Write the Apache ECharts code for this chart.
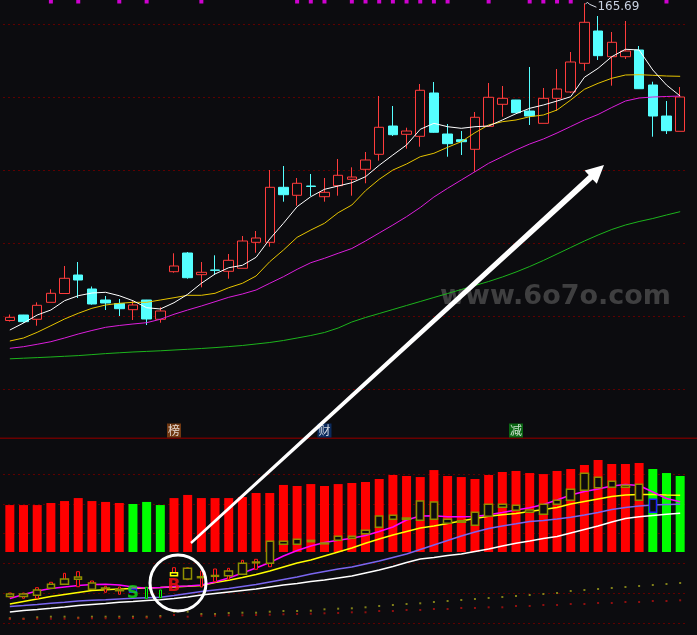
<!DOCTYPE html>
<html><head><meta charset="utf-8">
<script src="https://cdn.jsdelivr.net/npm/echarts/dist/echarts.min.js"></script>
<style>html,body{margin:0;padding:0;background:#0c0c0f;overflow:hidden}#c{width:697px;height:635px}</style>
</head><body><div id="c"></div>
<script>
const categories = ['1','2','3','4','5','6','7','8','9','10','11','12','13','14','15','16','17','18','19','20','21','22','23','24','25','26','27','28','29','30','31','32','33','34','35','36','37','38','39','40','41','42','43','44','45','46','47','48','49','50'];

// upper panel: daily candles
const priceOpen  = [78.77,80.27,79.10,83.75,86.16,91.23,87.40,84.38,83.42,81.73,84.38,79.10,92.14,97.26,91.32,92.60,92.25,93.07,100.19,100.19,115.26,113.07,115.62,112.68,115.70,117.45,120.19,124.30,132.05,129.78,129.23,141.10,129.86,128.30,125.67,131.97,138.00,139.18,136.16,132.79,139.64,141.37,149.23,158.08,151.04,151.04,152.88,143.29,134.79,130.60];
const priceClose = [79.64,78.44,82.93,86.22,90.33,89.86,83.29,83.56,82.00,83.01,79.18,81.37,93.70,90.49,91.97,92.52,95.26,100.55,101.37,115.26,113.23,116.36,115.48,113.89,118.55,118.08,122.74,131.70,129.67,130.68,141.84,130.33,127.21,127.75,134.44,139.92,139.64,135.70,134.79,139.64,142.19,149.59,160.47,151.32,154.99,152.60,142.27,134.79,130.77,140.00];
const priceLow   = [78.49,78.08,77.34,83.75,86.16,84.93,83.10,81.64,80.00,78.90,77.53,78.16,91.86,90.22,87.86,91.23,90.22,93.07,97.34,98.99,111.32,110.22,112.88,111.32,112.96,112.96,116.36,122.55,129.32,125.84,126.38,130.20,123.64,124.11,119.53,131.97,134.60,135.62,132.33,132.79,136.25,141.10,147.21,150.14,143.10,150.41,142.19,129.12,129.86,130.60];
const priceHigh  = [80.41,80.30,83.75,87.32,93.70,94.79,88.08,85.48,84.66,84.11,84.40,82.38,97.18,97.53,94.79,96.63,96.99,101.92,103.29,120.00,121.10,117.81,118.90,117.81,123.01,120.74,124.93,140.27,137.53,131.59,143.56,144.11,132.60,130.68,135.89,143.84,143.01,139.20,148.22,142.47,147.67,152.33,165.69,162.19,157.81,160.82,153.97,144.19,138.90,142.74];

const maWhite   = [76.16,78.08,80.27,81.64,84.19,85.56,86.30,86.49,85.56,84.19,82.27,81.92,83.64,85.95,88.96,91.51,93.23,93.89,96.08,101.10,105.40,109.95,112.69,114.71,115.62,116.52,118.16,121.29,124.11,126.85,131.15,132.79,131.86,131.42,131.86,132.05,133.70,135.42,136.90,137.81,138.90,140.08,145.40,147.86,151.04,153.07,152.88,147.40,143.29,140.27];
const maYellow  = [73.15,73.97,75.53,77.34,79.18,80.74,82.11,83.01,83.48,83.75,83.75,84.38,85.01,85.67,85.67,86.22,87.75,88.96,90.96,94.88,98.08,101.56,103.56,105.40,108.30,110.41,114.33,117.45,120.00,121.64,123.64,124.58,126.22,127.75,130.22,132.33,133.23,133.70,134.60,135.07,136.44,139.18,142.11,143.75,145.12,146.03,146.11,145.95,145.75,145.67];
const maMagenta = [71.15,71.59,72.25,72.96,73.97,75.07,76.03,76.90,77.40,77.81,78.17,79.10,80.47,81.64,82.74,83.92,85.12,86.03,87.12,88.96,90.77,92.79,94.60,95.81,97.18,98.49,100.55,102.74,104.93,107.21,109.73,112.60,114.99,117.26,119.53,121.84,123.64,125.48,127.12,128.49,130.14,131.92,133.70,135.21,137.12,138.90,139.73,140.00,140.14,140.27];
const maGreen   = [68.27,68.44,68.60,68.77,68.96,69.15,69.42,69.70,69.92,70.14,70.30,70.47,70.68,70.88,71.10,71.34,71.62,71.92,72.33,72.74,73.29,73.97,74.66,75.48,76.71,78.36,79.59,80.68,81.78,82.88,83.97,85.07,86.16,87.26,88.36,89.45,90.68,92.05,93.56,95.21,96.99,98.77,100.55,102.19,103.70,104.93,105.89,106.71,107.67,108.58];

// top signal squares (category indexes)
const topSignals = [3,5,8,10,14,21,22,23,25,26,27,28,29,30,31,32,35,38,39,40,41,48];
// captions over the lower panel
const tagIndex = [12,23,37];
const tagText  = ['榜','财','减'];
const tagColor = ['#8a4312','#0b3372','#0a7d14'];

// lower panel indicator
const barValue = [31.5,31.5,31.5,32.9,34.2,36.2,34.2,33.6,32.9,32.2,33.6,31.5,36.2,38.3,36.2,36.2,36.2,36.9,39.6,39.6,45.0,44.3,45.6,44.3,45.6,46.3,47.0,49.0,51.7,51.0,50.3,55.0,51.0,50.3,49.0,51.7,53.7,54.4,53.0,52.3,54.4,55.7,58.4,61.7,59.1,59.1,59.7,55.7,53.0,51.0];
const barSide  = ['R','R','R','R','R','R','R','R','R','G','G','G','R','R','R','R','R','R','R','R','R','R','R','R','R','R','R','R','R','R','R','R','R','R','R','R','R','R','R','R','R','R','R','R','R','R','R','G','G','G'];
const lowMagenta = [-31.21,-28.52,-26.17,-24.50,-23.49,-22.48,-21.81,-21.68,-22.15,-23.49,-24.36,-23.83,-23.15,-22.82,-22.15,-20.13,-17.45,-14.09,-10.74,-7.05,-2.68,1.01,4.03,6.38,7.85,9.26,11.07,13.76,16.78,21.48,24.16,24.30,23.69,23.69,23.83,24.97,26.51,28.19,29.66,31.88,34.90,38.26,40.60,42.28,44.30,45.30,44.63,40.27,35.91,33.69];
const lowYellow  = [-34.90,-33.22,-31.54,-29.87,-28.52,-27.18,-25.84,-25.37,-24.83,-24.50,-24.16,-23.83,-23.49,-23.02,-22.48,-20.47,-18.99,-17.11,-15.10,-12.75,-10.07,-7.38,-5.37,-2.68,0,2.68,5.84,8.72,11.41,13.76,16.11,17.45,19.13,20.81,22.48,23.96,24.97,25.84,27.18,28.52,29.87,32.21,33.89,35.57,37.25,38.26,38.59,38.59,38.26,38.05];
const lowPurple  = [-36.58,-35.91,-35.23,-34.43,-33.76,-32.89,-32.42,-32.01,-31.54,-31.07,-30.74,-30.40,-29.19,-27.85,-26.51,-25.50,-24.50,-23.15,-21.81,-20.13,-18.46,-16.78,-14.77,-13.09,-11.41,-10.07,-8.05,-6.04,-3.69,-1.34,1.68,4.70,7.72,10.74,13.42,15.77,17.45,18.93,20.47,21.14,22.15,23.29,24.83,26.51,28.52,29.87,30.87,31.54,31.88,32.01];
const lowWhite   = [-40.27,-39.26,-38.59,-37.79,-36.91,-35.91,-35.23,-34.56,-33.76,-33.22,-32.55,-32.01,-31.21,-30.20,-28.86,-27.85,-26.85,-25.84,-24.83,-23.49,-22.15,-21.14,-19.80,-18.79,-17.45,-16.11,-14.09,-12.08,-9.73,-7.05,-4.70,-3.69,-2.35,-1.34,0.34,2.01,4.03,5.84,7.38,9.06,10.40,12.75,15.10,17.45,20.13,22.48,23.62,24.50,25.30,25.97];
const boxTop    = [-28.19,-28.19,-25.50,-21.68,-18.12,-16.78,-20.81,-24.16,-25.03,-24.83,null,null,-13.89,-10.94,-16.58,-15.77,-12.75,-7.58,-6.71,7.18,7.18,8.52,7.85,6.04,10.54,10.54,14.56,24.16,24.63,22.82,34.23,33.56,21.95,21.01,26.64,32.01,32.01,31.34,28.19,32.01,34.70,42.08,52.82,50.13,47.45,44.77,45.44,35.37,null,null];
const boxBottom = [-29.87,-29.87,-29.06,-24.36,-21.68,-18.32,-25.03,-24.63,-25.97,-27.05,null,null,-15.91,-18.12,-17.25,-16.31,-15.91,-14.97,-7.25,-7.58,5.17,5.17,6.91,5.50,7.85,9.19,12.28,16.58,21.95,21.95,21.28,21.95,19.26,19.93,17.92,23.96,30.00,27.99,26.64,25.30,32.01,34.70,41.41,43.15,43.42,43.42,34.70,26.64,null,null];
const boxKind   = ['O','O','O','O','O','O','O','O','O','B','-','-','Y','O','O','O','O','O','O','O','O','O','O','O','O','O','O','O','O','O','O','O','O','O','O','O','O','O','O','O','O','O','O','O','O','O','O','B','-','-'];
const stickTop    = [-27.52,-27.52,-23.96,-20.34,-14.30,-13.22,-19.46,-23.02,-23.49,null,-23.69,-25.50,-10.54,-10.54,-12.75,-11.41,-10.94,-5.57,-4.90,7.18];
const stickBottom = [-30.20,-31.07,-31.07,-24.36,-21.68,-23.29,-25.03,-27.05,-28.39,null,-31.07,-30.67,-15.44,-18.59,-23.49,-19.93,-18.32,-14.77,-11.61,-9.87];
const stickKind   = ['R','R','R','R','R','R','R','R','R','-','G','G','R','R','R','R','R','R','R','R'];
const dotOlive = [-44.50,-44.77,-43.83,-43.42,-43.42,-44.09,-43.42,-43.42,-43.42,-43.42,-43.42,-42.95,-40.07,-40.07,-41.61,-41.61,-40.94,-40.74,-40.74,-40.07,-39.60,-39.60,-39.40,-38.46,-38.05,-37.79,-37.11,-36.24,-35.57,-34.90,-34.43,-33.56,-32.89,-32.21,-31.54,-30.87,-30.20,-29.53,-28.86,-28.19,-27.52,-26.17,-25.50,-24.83,-24.16,-23.49,-22.82,-22.15,-21.48,-20.81];
const dotRed   = [-44.97,-44.97,-44.77,-44.77,-44.77,-44.50,-44.50,-44.50,-44.30,-44.30,-44.09,-43.83,-42.28,-43.42,-42.75,-42.75,-42.48,-42.48,-42.28,-42.08,-41.81,-41.61,-41.41,-41.14,-40.94,-40.47,-40.47,-39.60,-39.60,-38.93,-38.93,-38.26,-38.26,-37.58,-37.58,-37.11,-37.11,-36.24,-36.24,-35.57,-35.57,-34.90,-34.90,-34.23,-34.23,-33.56,-33.56,-32.89,-32.89,-32.42];
const tradeIndex = [9,12];
const tradeText  = ['S','B'];
const tradeValue = [-28.2,-23.5];
const tradeColor = ['#10e010','#ff1010'];

const BG = '#0c0c0f';
const GRID_LEFT = 3, GRID_W = 684;
const boxColors = {O:'#8f8f00', Y:'#ffff00', B:'#1e1eff'};
const stickColors = {R:'#ff1a1a', G:'#00ff00'};

const chart = echarts.init(document.getElementById('c'), null, {renderer:'canvas'});

const candles = categories.map((c,i)=>[priceOpen[i],priceClose[i],priceLow[i],priceHigh[i]]);
const bars = barValue.map((v,i)=>({value:v,itemStyle:{color:barSide[i]==='G'?'#00ff00':'#ff0000'}}));
const boxes = categories.map((c,i)=>{
  if(boxTop[i]==null) return {value:['-','-','-','-']};
  const col = boxColors[boxKind[i]];
  return {value:[boxBottom[i],boxTop[i],boxBottom[i],boxTop[i]],
          itemStyle:{color:BG,color0:BG,borderColor:col,borderColor0:col}};
});
const sticks = categories.map((c,i)=>{
  if(i>=stickTop.length || stickTop[i]==null) return {value:['-','-','-','-']};
  const col = stickColors[stickKind[i]];
  return {value:[stickBottom[i],stickTop[i],stickBottom[i],stickTop[i]],
          itemStyle:{color:BG,color0:BG,borderColor:col,borderColor0:col}};
});

const splitStyle = {show:true,lineStyle:{color:'#5e0000',type:[2,3],width:1}};
const xBase = {type:'category',data:categories,boundaryGap:true,show:false};

chart.setOption({
  animation:false,
  backgroundColor:BG,
  grid:[
    {left:GRID_LEFT,width:GRID_W,top:24,height:365},
    {left:GRID_LEFT,width:GRID_W,top:474,height:149},
    {left:GRID_LEFT,width:GRID_W,top:0,height:3},
    {left:GRID_LEFT,width:GRID_W,top:424,height:13}
  ],
  xAxis:[
    Object.assign({gridIndex:0},xBase),
    Object.assign({gridIndex:1},xBase),
    Object.assign({gridIndex:2},xBase),
    Object.assign({gridIndex:3},xBase)
  ],
  yAxis:[
    {gridIndex:0,type:'value',min:60,max:160,interval:20,axisLabel:{show:false},axisLine:{show:false},axisTick:{show:false},splitLine:splitStyle},
    {gridIndex:1,type:'value',min:-47.65,max:52.35,interval:20,axisLabel:{show:false},axisLine:{show:false},axisTick:{show:false},splitLine:splitStyle},
    {gridIndex:2,type:'value',min:0,max:1,show:false},
    {gridIndex:3,type:'value',min:0,max:1,show:false}
  ],
  series:[
    {type:'candlestick',xAxisIndex:0,yAxisIndex:0,data:candles,barWidth:10,clip:false,z:2,
     itemStyle:{color:BG,color0:'#55ffff',borderColor:'#ff3c3c',borderColor0:'#55ffff',borderWidth:1}},
    {type:'line',xAxisIndex:0,yAxisIndex:0,data:maGreen,showSymbol:false,clip:false,z:3,lineStyle:{color:'#1cb41c',width:1}},
    {type:'line',xAxisIndex:0,yAxisIndex:0,data:maMagenta,showSymbol:false,clip:false,z:3,lineStyle:{color:'#dc1edc',width:1}},
    {type:'line',xAxisIndex:0,yAxisIndex:0,data:maYellow,showSymbol:false,clip:false,z:3,lineStyle:{color:'#e6c400',width:1}},
    {type:'line',xAxisIndex:0,yAxisIndex:0,data:maWhite,showSymbol:false,clip:false,z:4,lineStyle:{color:'#ffffff',width:1}},

    {type:'bar',xAxisIndex:1,yAxisIndex:1,data:bars,barWidth:9,clip:false,z:1},
    {type:'line',xAxisIndex:1,yAxisIndex:1,data:lowWhite,showSymbol:false,clip:false,z:2,lineStyle:{color:'#ffffff',width:1.5}},
    {type:'line',xAxisIndex:1,yAxisIndex:1,data:lowPurple,showSymbol:false,clip:false,z:2,lineStyle:{color:'#7a66f0',width:1.5}},
    {type:'line',xAxisIndex:1,yAxisIndex:1,data:lowYellow,showSymbol:false,clip:false,z:2,lineStyle:{color:'#ffff00',width:1.5}},
    {type:'line',xAxisIndex:1,yAxisIndex:1,data:lowMagenta,showSymbol:false,clip:false,z:2,lineStyle:{color:'#ff00ff',width:1.5}},
    {type:'candlestick',xAxisIndex:1,yAxisIndex:1,data:sticks,barWidth:3,clip:false,z:3,itemStyle:{borderWidth:1}},
    {type:'candlestick',xAxisIndex:1,yAxisIndex:1,data:boxes,barWidth:8,clip:false,z:4,itemStyle:{borderWidth:1.5}},
    {type:'scatter',xAxisIndex:1,yAxisIndex:1,data:dotOlive,symbol:'rect',symbolSize:2,clip:false,z:2,itemStyle:{color:'#9c9c1c'}},
    {type:'scatter',xAxisIndex:1,yAxisIndex:1,data:dotRed,symbol:'rect',symbolSize:2,clip:false,z:2,itemStyle:{color:'#b01010'}},
    {type:'scatter',xAxisIndex:1,yAxisIndex:1,clip:false,z:6,symbolSize:1,itemStyle:{color:'rgba(0,0,0,0)'},
     data:tradeIndex.map((x,k)=>({value:[x,tradeValue[k]],label:{show:true,position:'inside',formatter:tradeText[k],color:tradeColor[k],fontSize:17,fontWeight:'bold',fontFamily:'DejaVu Sans'}}))},

    {type:'scatter',xAxisIndex:2,yAxisIndex:2,data:topSignals.map(i=>[i,0.5]),symbol:'rect',symbolSize:[4,4],clip:false,itemStyle:{color:'#ff00ff'}},
    {type:'scatter',xAxisIndex:3,yAxisIndex:3,symbolSize:1,clip:false,z:10,itemStyle:{color:'rgba(0,0,0,0)'},
     data:tagIndex.map((x,k)=>({value:[x,0.5],label:{show:true,position:'inside',formatter:tagText[k],color:'#ffffff',
       backgroundColor:tagColor[k],padding:[1,1,0,1],fontSize:12,lineHeight:13,fontFamily:'Noto Sans CJK SC'}}))}
  ]
});

// annotations
const hi = Math.max.apply(null, priceHigh);
const hiIdx = priceHigh.indexOf(hi);
const p = chart.convertToPixel({xAxisIndex:0,yAxisIndex:0},[categories[hiIdx],hi]);
const g = [
  {type:'rect',shape:{x:0,y:437.5,width:697,height:1.5},style:{fill:'#6a0000'},silent:true,z:1},
  {type:'text',left:440,top:283,style:{text:'www.6o7o.com',font:'bold 27px "DejaVu Sans"',fill:'rgba(105,105,105,0.55)'},silent:true,z:0},
  {type:'polyline',shape:{points:[[p[0]+1,p[1]+1],[p[0]+3,p[1]-1],[p[0]+5,p[1]+1],[p[0]+12,p[1]+4]]},style:{stroke:'#d8dce8',lineWidth:1,fill:null},z:20},
  {type:'text',x:p[0]+13,y:p[1]+4,style:{text:hi.toFixed(2),font:'12px "DejaVu Sans"',fill:'#c9d2e2',verticalAlign:'middle',align:'left'},z:20},
  {type:'polygon',shape:{points:[[191.8,543.9],[190.2,542.1],[588.7,175],[584.6,170.6],[604,165],[596.8,183.8],[592.7,179.4]]},style:{fill:'#ffffff'},z:30},
  {type:'circle',shape:{cx:178,cy:583,r:28},style:{fill:null,stroke:'#ffffff',lineWidth:3},z:30}
];
chart.setOption({graphic:g});
</script></body></html>
